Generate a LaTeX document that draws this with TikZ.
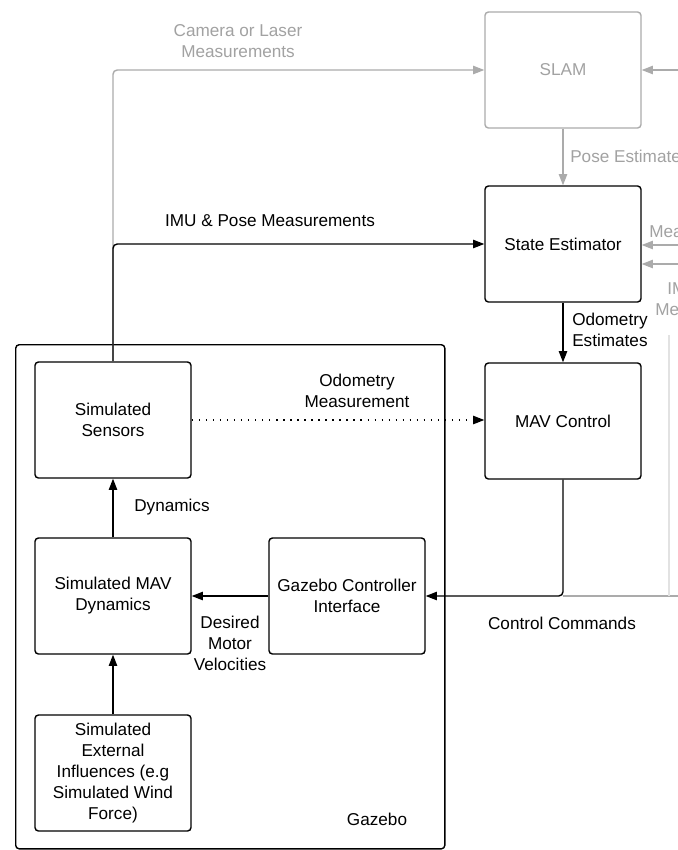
\documentclass[tikz,border=0pt]{standalone}
\usepackage{fontspec}
\setmainfont{Liberation Sans}
\usetikzlibrary{arrows.meta}
\definecolor{lightline}{HTML}{ABABAB}
\definecolor{lighttext}{HTML}{A2A2A2}
\definecolor{faintline}{HTML}{E2E2E2}

\begin{document}
\begin{tikzpicture}[x=0.025cm, y=-0.025cm, font=\fontsize{12.2}{14.9}\selectfont]
        \tikzstyle{block} = [draw, rounded corners=2.5pt, line width=1pt, minimum width=3.9cm, minimum height=2.9cm, align=center]
        \tikzstyle{greyblock} = [block, draw=lightline, text=lighttext]
        \tikzstyle{edge} = [-{Triangle[length=8pt, width=6pt]}, line width=1pt, rounded corners=3pt]
        \tikzstyle{greyedge} = [edge, draw=lightline]
        \tikzstyle{label} = [align=center, inner sep=0pt]
        \tikzstyle{greylabel} = [label, text=lighttext]
        \clip (0,0) rectangle (678,850);
        \fill[white] (0,0) rectangle (678,850);
        % Gazebo container
        \node[block, minimum width=10.725cm, minimum height=12.6cm, anchor=north west] (gazebo) at (15,344) {};
        \node[label] (gazebolabel) at (377,819) {Gazebo};
        % blocks
        \node[greyblock] (slam) at (563,70) {SLAM};
        \node[block] (estimator) at (563,244) {State Estimator};
        \node[block] (control) at (563,421) {MAV Control};
        \node[block] (sensors) at (113,420) {Simulated\\Sensors};
        \node[block] (dynamics) at (113,596) {Simulated MAV\\Dynamics};
        \node[block] (interface) at (347,596) {Gazebo Controller\\Interface};
        \node[block] (external) at (113,773) {Simulated\\External\\Influences (e.g\\Simulated Wind\\Force)};
        % outside inputs
        \coordinate (slamin) at (700,70);
        \coordinate (measin) at (700,245);
        \coordinate (imuin) at (700,264);
        \coordinate (cmdout) at (700,596);
        % edges
        \draw[greyedge] (sensors.north) |- (slam.west);
        \draw[edge] (sensors.north) |- (estimator.west);
        \draw[greyedge] (slamin) -- (slam.east |- slamin);
        \draw[greyedge] (slam) -- (estimator);
        \draw[greyedge] (measin) -- (estimator.east |- measin);
        \draw[greyedge] (imuin) -- (estimator.east |- imuin);
        \draw[edge] (estimator) -- (control);
        \draw[edge, dash pattern=on 1pt off 4pt] (sensors.east) -- (sensors.east -| control.west);
        \draw[edge] (control.south) |- (interface.east);
        \draw[lightline, line width=0.8pt] (control.south |- interface.east) -- (cmdout);
        \draw[faintline, line width=0.8pt] (669,335) -- (669,596);
        \draw[edge] (interface) -- (dynamics);
        \draw[edge] (dynamics) -- (sensors);
        \draw[edge] (external) -- (dynamics);
        % labels
        \node[greylabel] (cameralabel) at (238,41) {Camera or Laser\\Measurements};
        \node[label] (imulabel) at (270,221) {IMU \& Pose Measurements};
        \node[greylabel, anchor=west] (poselabel) at (570,156) {Pose Estimate};
        \node[greylabel, anchor=west] (measlabel) at (649,232) {Measurements};
        \node[greylabel, anchor=north west, align=left] (imuinlabel) at (655,282) {\hspace*{0.3cm}IMU\\Measurements};
        \node[label, anchor=west, align=left] (odomlabel) at (572,330) {Odometry\\Estimates};
        \node[label] (odommeaslabel) at (357,391) {Odometry\\Measurement};
        \node[label] (dynlabel) at (172,507) {Dynamics};
        \node[label] (motorlabel) at (230,643) {Desired\\Motor\\Velocities};
        \node[label] (cmdlabel) at (562,623) {Control Commands};
    \end{tikzpicture}
\end{document}
